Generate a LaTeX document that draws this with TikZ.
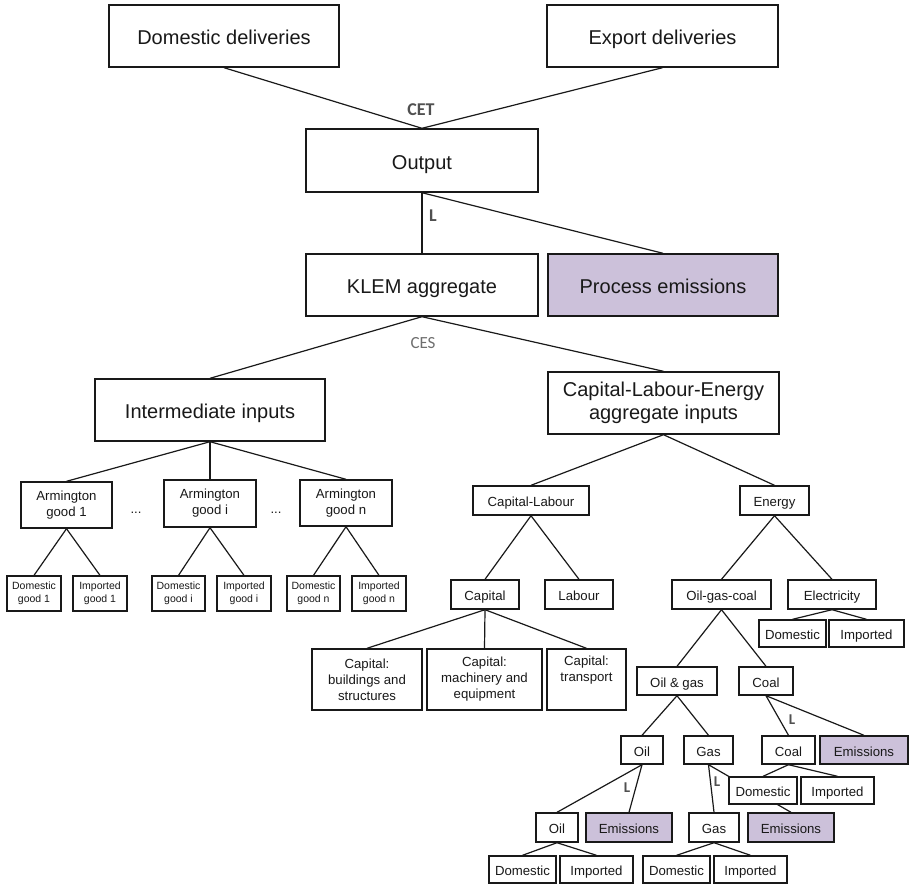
\documentclass[tikz,border=0pt]{standalone}
\usepackage{fontspec}
\setmainfont{Liberation Sans}
\newfontfamily\lblfont{Carlito}
\usetikzlibrary{backgrounds}
\definecolor{emisfill}{RGB}{204,193,218}
\definecolor{lblgray}{RGB}{80,80,80}
\definecolor{cesgray}{RGB}{110,110,110}
\definecolor{txt}{RGB}{25,25,25}
\tikzset{
  box/.style={draw=txt, line width=1.4pt, fill=white, inner sep=0pt, align=center, text=txt},
  wh/.style 2 args={minimum width=#1pt, minimum height=#2pt},
  big/.style={box, font=\fontsize{20}{23}\selectfont},
  med/.style={box, font=\fontsize{13.2}{16}\selectfont},
  sml/.style={box, line width=1.3pt, font=\fontsize{10.5}{12.7}\selectfont},
  bl/.style={text height=17.4pt, text depth=0pt},
  ml/.style={text height=12.2pt, text depth=0pt},
  emis/.style={fill=emisfill},
  conn/.style={line width=1.2pt, draw=txt},
  lbl/.style={inner sep=0pt, text=lblgray, font=\lblfont\bfseries\fontsize{18}{18}\selectfont},
  slbl/.style={inner sep=0pt, text=lblgray, font=\lblfont\bfseries\fontsize{15}{15}\selectfont},
  cesl/.style={inner sep=0pt, text=cesgray, font=\lblfont\fontsize{17}{17}\selectfont},
  dotsl/.style={inner sep=0pt, text=txt, font=\fontsize{13.2}{16}\selectfont, anchor=base},
}
\begin{document}
\begin{tikzpicture}[x=1pt, y=-1pt]
\useasboundingbox (0,0) rectangle (909,884);
% top level
\node[big, bl, wh={230}{62}] (dd) at (224,36) {Domestic deliveries};
\node[big, bl, wh={231}{62}] (ed) at (662.5,36) {Export deliveries};
\node[big, bl, wh={232}{63}] (out) at (422,160.5) {Output};
\node[big, bl, wh={232}{62}] (klem) at (422,285) {KLEM aggregate};
\node[big, bl, emis, wh={230}{62}] (pe) at (663,285) {Process emissions};
\node[big, bl, wh={230}{62}] (ii) at (210,410) {Intermediate inputs};
\node[big, wh={231}{62}] (cle) at (663.5,403) {Capital-Labour-Energy\\aggregate inputs};
% intermediate branch
\node[med, wh={91}{46}] (a1) at (66.5,505) {Armington\\good 1};
\node[med, wh={92}{47}] (ai) at (210,503.5) {Armington\\good i};
\node[med, wh={92}{46}] (an) at (346,503) {Armington\\good n};
\node[dotsl] (dots1) at (136,513) {...};
\node[dotsl] (dots2) at (276,513) {...};
\node[sml, wh={54}{35}] (d1) at (34,593.5) {Domestic\\good 1};
\node[sml, wh={54}{35}] (i1) at (100,593.5) {Imported\\good 1};
\node[sml, wh={53}{35}] (di) at (178.5,593.5) {Domestic\\good i};
\node[sml, wh={54}{35}] (iip) at (244,593.5) {Imported\\good i};
\node[sml, wh={53}{35}] (dn) at (313.5,593.5) {Domestic\\good n};
\node[sml, wh={54}{35}] (nin) at (379,593.5) {Imported\\good n};
% capital-labour-energy branch
\node[med, ml, wh={116}{29}] (cl) at (531,500.5) {Capital-Labour};
\node[med, ml, wh={69}{29}] (en) at (774.5,500.5) {Energy};
\node[med, ml, wh={68}{29}] (cap) at (485,594.5) {Capital};
\node[med, ml, wh={68}{29}] (lab) at (579,594.5) {Labour};
\node[med, ml, wh={99}{29}] (ogc) at (721.5,594.5) {Oil-gas-coal};
\node[med, ml, wh={88}{29}] (ele) at (832,594.5) {Electricity};
\node[med, ml, wh={67}{27}] (eld) at (792.5,633.5) {Domestic};
\node[med, ml, wh={75}{27}] (eli) at (866.5,633.5) {Imported};
\node[med, wh={110}{61}] (cb) at (367,679.5) {Capital:\\buildings and\\structures};
\node[med, wh={115}{61}] (cm) at (484.5,679.5) {Capital:\\machinery and\\equipment};
\node[med, wh={79}{61}] (ct) at (586.5,679.5) {Capital:\\transport\\\strut};
\node[med, ml, wh={80}{28}] (og) at (677,681) {Oil \& gas};
\node[med, ml, wh={54}{28}] (coal) at (766,681) {Coal};
\node[med, ml, wh={42}{28}] (oil) at (642,750) {Oil};
\node[med, ml, wh={49}{28}] (gas) at (708.5,750) {Gas};
\node[med, ml, wh={53}{28}] (coal2) at (788.5,750) {Coal};
\node[med, ml, emis, wh={88}{28}] (emc) at (864,750) {Emissions};
\node[med, ml, wh={68}{27}] (cd) at (763,790.5) {Domestic};
\node[med, ml, wh={73}{27}] (ci) at (837.5,790.5) {Imported};
\node[med, ml, emis, wh={86}{29}] (emg) at (791,827.5) {Emissions};
\node[med, ml, wh={42}{29}] (oil2) at (557,827.5) {Oil};
\node[med, ml, emis, wh={86}{29}] (emo) at (629,827.5) {Emissions};
\node[med, ml, wh={50}{29}] (gas2) at (714,827.5) {Gas};
\node[med, ml, wh={67}{27}] (od) at (522.5,869.5) {Domestic};
\node[med, ml, wh={73}{27}] (oi) at (596.5,869.5) {Imported};
\node[med, ml, wh={67}{27}] (gd) at (676.5,869.5) {Domestic};
\node[med, ml, wh={73}{27}] (gi) at (750.5,869.5) {Imported};
% labels
\node[lbl] (cet) at (421,110) {CET};
\node[lbl] (lout) at (433,216) {L};
\node[cesl] (ces) at (423,343) {CES};
\node[slbl] (lcoal) at (792,720) {L};
\node[slbl] (loil) at (627,788) {L};
\node[slbl] (lgas) at (717,782) {L};
% connectors
\begin{scope}[on background layer]
\draw[conn] (dd.south) -- (out.north);
\draw[conn] (ed.south) -- (out.north);
\draw[conn] (out.south) -- (klem.north);
\draw[conn] (out.south) -- (pe.north);
\draw[conn] (klem.south) -- (ii.north);
\draw[conn] (klem.south) -- (cle.north);
\draw[conn] (ii.south) -- (a1.north);
\draw[conn] (ii.south) -- (ai.north);
\draw[conn] (ii.south) -- (an.north);
\draw[conn] (a1.south) -- (d1.north);
\draw[conn] (a1.south) -- (i1.north);
\draw[conn] (ai.south) -- (di.north);
\draw[conn] (ai.south) -- (iip.north);
\draw[conn] (an.south) -- (dn.north);
\draw[conn] (an.south) -- (nin.north);
\draw[conn] (cle.south) -- (cl.north);
\draw[conn] (cle.south) -- (en.north);
\draw[conn] (cl.south) -- (cap.north);
\draw[conn] (cl.south) -- (lab.north);
\draw[conn] (en.south) -- (ogc.north);
\draw[conn] (en.south) -- (ele.north);
\draw[conn] (ele.south) -- (eld.north);
\draw[conn] (ele.south) -- (eli.north);
\draw[conn] (cap.south) -- (cb.north);
\draw[conn] (cap.south) -- (cm.north);
\draw[conn] (cap.south) -- (ct.north);
\draw[conn] (ogc.south) -- (og.north);
\draw[conn] (ogc.south) -- (coal.north);
\draw[conn] (og.south) -- (oil.north);
\draw[conn] (og.south) -- (gas.north);
\draw[conn] (coal.south) -- (coal2.north);
\draw[conn] (coal.south) -- (emc.north);
\draw[conn] (coal2.south) -- (cd.north);
\draw[conn] (coal2.south) -- (ci.north);
\draw[conn] (oil.south) -- (oil2.north);
\draw[conn] (oil.south) -- (emo.north);
\draw[conn] (gas.south) -- (gas2.north);
\draw[conn] (gas.south) -- (emg.north);
\draw[conn] (oil2.south) -- (od.north);
\draw[conn] (oil2.south) -- (oi.north);
\draw[conn] (gas2.south) -- (gd.north);
\draw[conn] (gas2.south) -- (gi.north);
\end{scope}
\end{tikzpicture}
\end{document}
